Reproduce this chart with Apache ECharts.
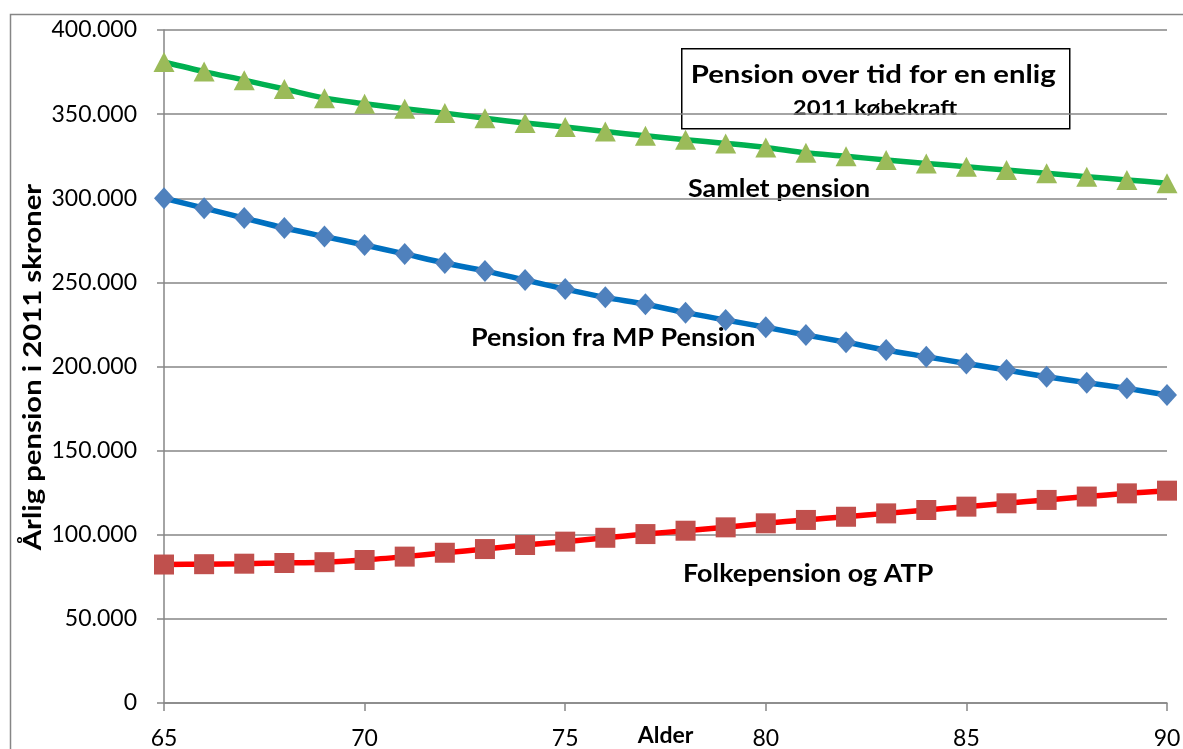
<!DOCTYPE html>
<html>
<head>
<meta charset="utf-8">
<script src="https://cdn.jsdelivr.net/npm/echarts@6/dist/echarts.min.js"></script>
<style>
  html, body { margin: 0; padding: 0; background: #fff; }
  #chart { width: 1183px; height: 749px; }
</style>
</head>
<body>
<div id="chart"></div>
<script>
// Alder 65..90
const ages = [65, 66, 67, 68, 69, 70, 71, 72, 73, 74, 75, 76, 77, 78, 79, 80, 81, 82, 83, 84, 85, 86, 87, 88, 89, 90];

// Samlet pension
const samlet = [381000, 375300, 370200, 364900, 359500, 356200, 353200, 350600, 347600, 344700, 342300, 339700, 337100, 334800, 332600, 330200, 327000, 325000, 322700, 320700, 318700, 316800, 314800, 312800, 310900, 308900];

// Pension fra MP Pension
const mpPension = [300000, 294100, 288200, 282300, 277200, 272200, 266900, 261500, 256800, 251400, 246000, 241100, 237000, 232000, 227600, 223300, 218700, 214400, 209800, 205800, 201800, 197900, 193900, 190400, 187000, 183100];

// Folkepension og ATP
const folke = [82300, 82500, 82800, 83200, 83700, 85000, 87000, 89300, 91500, 93900, 95900, 98200, 100400, 102400, 104400, 106800, 108800, 110700, 112700, 114700, 116700, 118700, 120700, 122700, 124600, 126200];

const yTicks = [0, 50000, 100000, 150000, 200000, 250000, 300000, 350000, 400000];

const FONT = "Lato";

function fmtThousands(v) {
  return String(v).replace(/\B(?=(\d{3})+(?!\d))/g, ".");
}

function pairs(vals) {
  return ages.map((a, i) => [a, vals[i]]);
}

// fed tekst, lidt strakt i bredden (Calibri er bredere end Lato)
function boldText(text, x, y, size, stretch, extra) {
  return Object.assign({
    type: "text",
    x: x, y: y,
    scaleX: stretch,
    style: { text: text, fontFamily: FONT, fontWeight: "bold", fontSize: size, fill: "#000", verticalAlign: "middle" }
  }, extra || {});
}

const chart = echarts.init(document.getElementById("chart"));

const option = {
  animation: false,
  backgroundColor: "#fff",
  textStyle: { fontFamily: FONT },
  grid: { left: 164, right: 16, top: 30, bottom: 46, containLabel: false, outerBoundsMode: "none" },
  xAxis: {
    type: "value",
    min: 65,
    max: 90,
    interval: 5,
    name: "Alder",
    nameLocation: "middle",
    nameGap: 33,
    nameMoveOverlap: false,
    nameTextStyle: { fontFamily: FONT, fontWeight: "bold", fontSize: 23, color: "#000", verticalAlign: "middle" },
    axisLine: { show: true, lineStyle: { color: "#868686", width: 1.5 } },
    axisTick: { show: true, length: 8, lineStyle: { color: "#868686", width: 1.5 } },
    axisLabel: { fontFamily: FONT, fontSize: 23, color: "#000", margin: 24 },
    splitLine: { show: false }
  },
  yAxis: {
    type: "value",
    min: 0,
    max: 400000,
    interval: 50000,
    axisLine: { show: true, lineStyle: { color: "#868686", width: 1.5 } },
    axisTick: { show: true, length: 7, lineStyle: { color: "#868686", width: 1.5 } },
    axisLabel: {
      fontFamily: FONT, fontSize: 23, color: "#000", margin: 27,
      formatter: (v) => yTicks.includes(v) ? fmtThousands(v) : ""
    },
    splitLine: { show: true, lineStyle: { color: "#868686", width: 1.5 } }
  },
  series: [
    {
      name: "Samlet pension",
      type: "line",
      data: pairs(samlet),
      smooth: 0.3,
      symbol: "triangle",
      symbolSize: [21, 20],
      lineStyle: { color: "#00B050", width: 5.5 },
      itemStyle: { color: "#9BBB59" },
      z: 3
    },
    {
      name: "Pension fra MP Pension",
      type: "line",
      data: pairs(mpPension),
      smooth: 0.3,
      symbol: "diamond",
      symbolSize: [20, 22],
      lineStyle: { color: "#0070C0", width: 5.5 },
      itemStyle: { color: "#4F81BD" },
      z: 3
    },
    {
      name: "Folkepension og ATP",
      type: "line",
      data: pairs(folke),
      smooth: 0.3,
      symbol: "rect",
      symbolSize: 20,
      lineStyle: { color: "#FF0000", width: 5.5 },
      itemStyle: { color: "#C0504D" },
      z: 3
    }
  ],
  graphic: [
    // ydre ramme
    {
      type: "rect",
      shape: { x: 10.5, y: 14.5, width: 1250, height: 800 },
      style: { fill: null, stroke: "#868686", lineWidth: 1.5 },
      silent: true
    },
    // y-aksens navn, drejet
    boldText("Årlig pension i 2011 skroner", 33, 367, 24, 1.22, {
      rotation: Math.PI / 2,
      style: { text: "Årlig pension i 2011 skroner", fontFamily: FONT, fontWeight: "bold", fontSize: 24, fill: "#000", align: "center", verticalAlign: "middle" }
    }),
    // titelboks
    {
      type: "group",
      left: 681,
      top: 48,
      z: 10,
      children: [
        {
          type: "rect",
          shape: { x: 0, y: 0, width: 388, height: 80 },
          style: { fill: "#fff", stroke: "#000", lineWidth: 1.5 }
        },
        boldText("Pension over tid for en enlig", 9, 26, 25.5, 1.15),
        boldText("2011 købekraft", 111, 60, 20, 1.2)
      ]
    },
    // serienavne
    boldText("Samlet pension", 688, 189, 24, 1.12),
    boldText("Pension fra MP Pension", 471, 338, 24, 1.12),
    boldText("Folkepension og ATP", 683, 574, 24, 1.12)
  ]
};

chart.setOption(option);
</script>
</body>
</html>
